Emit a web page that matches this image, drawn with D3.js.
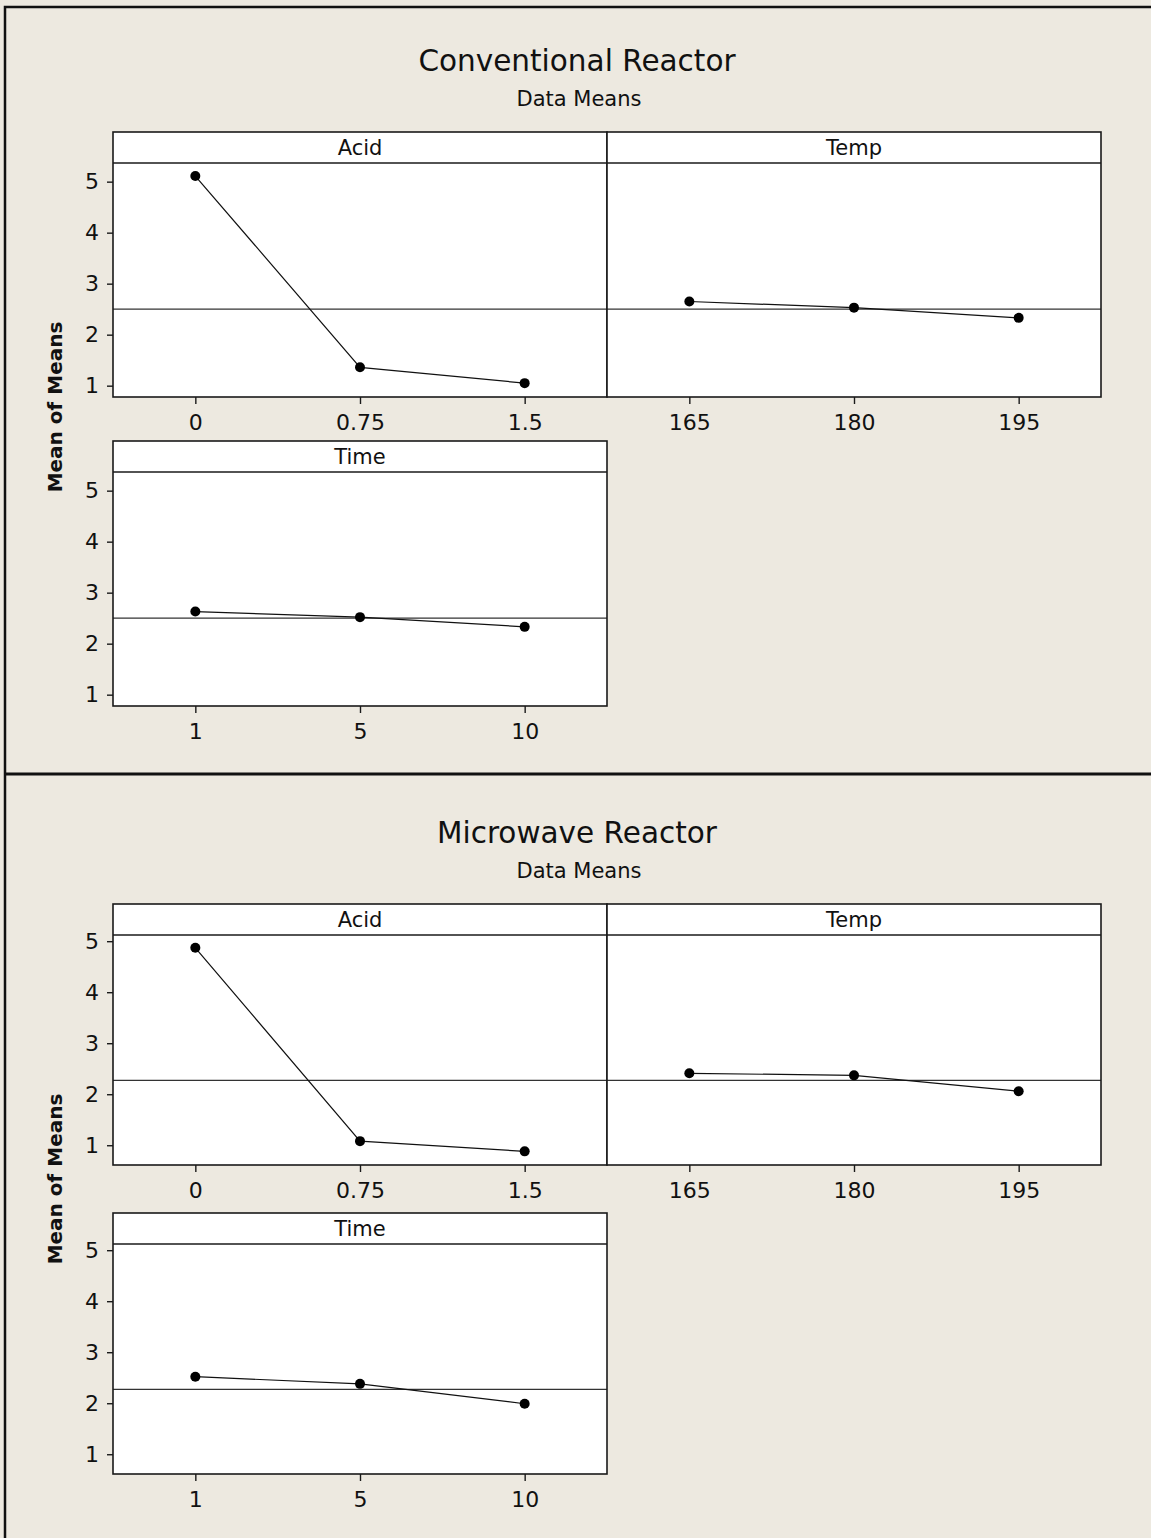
<!DOCTYPE html>
<html>
<head>
<meta charset="utf-8">
<script src="https://cdn.jsdelivr.net/npm/d3@7"></script>
<style>
  body { margin: 0; background: #ede9e0; }
  text { font-family: "DejaVu Sans", sans-serif; fill: #111; }
</style>
</head>
<body>
<div id="chart"></div>
<script>
// Factor levels (tick labels)
var acidLevels = ["0", "0.75", "1.5"];
var tempLevels = ["165", "180", "195"];
var timeLevels = ["1", "5", "10"];

// Conventional reactor means
var convAcid = [5.11, 1.36, 1.05];
var convTemp = [2.65, 2.53, 2.33];
var convTime = [2.63, 2.52, 2.33];
var convMean = 2.50;

// Microwave reactor means
var microAcid = [4.87, 1.08, 0.88];
var microTemp = [2.41, 2.37, 2.06];
var microTime = [2.52, 2.38, 1.99];
var microMean = 2.27;

var yTicks = [1, 2, 3, 4, 5];

var width = 1151, height = 1538;
var panelLeft = 113, panelW = 494, stripH = 31;

var svg = d3.select("#chart")
  .append("svg")
  .attr("width", width)
  .attr("height", height);

svg.append("rect")
  .attr("width", width)
  .attr("height", height)
  .attr("fill", "#ede9e0");

// outer frame + divider between the two graphs
svg.append("path")
  .attr("d", "M5," + height + "V7H" + width)
  .attr("fill", "none")
  .attr("stroke", "#111")
  .attr("stroke-width", 2.5);
svg.append("line")
  .attr("x1", 5).attr("x2", width)
  .attr("y1", 774).attr("y2", 774)
  .attr("stroke", "#111")
  .attr("stroke-width", 3);

function drawChart(offset, title, factors, mean, rowTops, panelH) {
  var g = svg.append("g").attr("transform", "translate(0," + offset + ")");

  g.append("text")
    .attr("x", 577).attr("y", 71)
    .attr("text-anchor", "middle")
    .style("font-size", "29.5px")
    .text(title);
  g.append("text")
    .attr("x", 579).attr("y", 106)
    .attr("text-anchor", "middle")
    .style("font-size", "21px")
    .text("Data Means");

  g.append("text")
    .attr("transform", "translate(62,407) rotate(-90)")
    .attr("text-anchor", "middle")
    .style("font-size", "20px")
    .style("font-weight", "bold")
    .text("Mean of Means");

  // shared y domain for the whole graph
  var all = d3.merge(factors.map(function(f) { return f.values; }));
  var lo = d3.min(all), hi = d3.max(all), span = hi - lo;
  var yDomain = [lo - 0.067 * span, hi + 0.063 * span];

  factors.forEach(function(f, i) {
    var col = i % 2, row = Math.floor(i / 2);
    var x0 = panelLeft + col * panelW, y0 = rowTops[row];
    var p = g.append("g");

    p.append("rect")
      .attr("x", x0).attr("y", y0)
      .attr("width", panelW).attr("height", panelH)
      .attr("fill", "white");

    var x = d3.scalePoint()
      .domain(f.levels)
      .range([x0, x0 + panelW])
      .padding(0.5);
    var y = d3.scaleLinear()
      .domain(yDomain)
      .range([y0 + panelH, y0 + stripH]);

    // grand mean reference line
    p.append("line")
      .attr("x1", x0).attr("x2", x0 + panelW)
      .attr("y1", y(mean)).attr("y2", y(mean))
      .attr("stroke", "#333")
      .attr("stroke-width", 1.2);

    var pts = f.levels.map(function(l, j) { return [l, f.values[j]]; });
    p.append("path")
      .datum(pts)
      .attr("fill", "none")
      .attr("stroke", "#111")
      .attr("stroke-width", 1.2)
      .attr("d", d3.line()
        .x(function(d) { return x(d[0]); })
        .y(function(d) { return y(d[1]); }));
    p.selectAll(".dot")
      .data(pts)
      .enter()
      .append("circle")
      .attr("class", "dot")
      .attr("cx", function(d) { return x(d[0]); })
      .attr("cy", function(d) { return y(d[1]); })
      .attr("r", 5)
      .attr("fill", "#000");

    // panel frame and strip
    p.append("rect")
      .attr("x", x0).attr("y", y0)
      .attr("width", panelW).attr("height", panelH)
      .attr("fill", "none")
      .attr("stroke", "#1a1a1a")
      .attr("stroke-width", 1.6);
    p.append("line")
      .attr("x1", x0).attr("x2", x0 + panelW)
      .attr("y1", y0 + stripH).attr("y2", y0 + stripH)
      .attr("stroke", "#1a1a1a")
      .attr("stroke-width", 1.6);
    p.append("text")
      .attr("x", x0 + panelW / 2).attr("y", y0 + 23)
      .attr("text-anchor", "middle")
      .style("font-size", "21px")
      .text(f.name);

    var xa = p.append("g")
      .attr("transform", "translate(0," + (y0 + panelH) + ")")
      .call(d3.axisBottom(x).tickSize(7).tickSizeOuter(0).tickPadding(10));
    xa.select(".domain").remove();
    xa.selectAll("line").attr("stroke", "#1a1a1a").attr("stroke-width", 1.4);
    xa.selectAll("text").style("font-size", "22px").attr("fill", "#111");

    if (col == 0) {
      var ya = p.append("g")
        .attr("transform", "translate(" + x0 + ",0)")
        .call(d3.axisLeft(y).tickValues(yTicks).tickFormat(d3.format("d"))
          .tickSize(6).tickSizeOuter(0).tickPadding(8));
      ya.select(".domain").remove();
      ya.selectAll("line").attr("stroke", "#1a1a1a").attr("stroke-width", 1.4);
      ya.selectAll("text").style("font-size", "22px").attr("fill", "#111");
    }
  });
}

drawChart(0, "Conventional Reactor", [
  {name: "Acid", levels: acidLevels, values: convAcid},
  {name: "Temp", levels: tempLevels, values: convTemp},
  {name: "Time", levels: timeLevels, values: convTime}
], convMean, [132, 441], 265);

drawChart(772, "Microwave Reactor", [
  {name: "Acid", levels: acidLevels, values: microAcid},
  {name: "Temp", levels: tempLevels, values: microTemp},
  {name: "Time", levels: timeLevels, values: microTime}
], microMean, [132, 441], 261);
</script>
</body>
</html>
